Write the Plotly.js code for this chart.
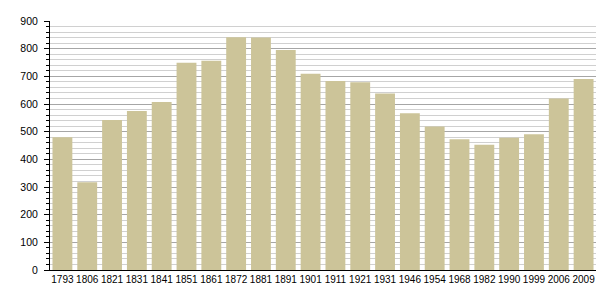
<!DOCTYPE html>
<html><head><meta charset="utf-8">
<script src="https://cdn.plot.ly/plotly-3.0.1.min.js"></script>
<style>html,body{margin:0;padding:0;background:#fff}#chart{width:605px;height:300px}</style>
</head><body><div id="chart"></div>
<script>
const years = ["1793","1806","1821","1831","1841","1851","1861","1872","1881","1891","1901","1911","1921","1931","1946","1954","1968","1982","1990","1999","2006","2009"];
const population = [480,317,542,575,607,749,756,841,840,795,709,683,679,638,567,519,473,453,478,491,620,690];
const yTickVals = [0,100,200,300,400,500,600,700,800,900];

Plotly.newPlot('chart', [{
  type: 'bar',
  x: years,
  y: population,
  marker: {color: '#ccc499', line: {width: 0}},
  hoverinfo: 'x+y'
}], {
  width: 605, height: 300,
  margin: {l: 50, r: 9, t: 21, b: 30},
  paper_bgcolor: '#fff', plot_bgcolor: '#fff',
  bargap: 0.2,
  showlegend: false,
  font: {family: 'Liberation Sans, Arial, sans-serif', size: 10, color: '#000'},
  xaxis: {
    type: 'category',
    showline: true, linecolor: '#000', linewidth: 1,
    ticks: '', showgrid: false, zeroline: false,
    tickangle: 0,
    tickfont: {size: 10}
  },
  yaxis: {
    range: [0, 900],
    tickvals: yTickVals,
    showline: true, linecolor: '#000', linewidth: 1,
    ticks: 'outside', ticklen: 5, tickcolor: '#000', tickwidth: 1,
    ticklabelstandoff: 4,
    showgrid: true, gridcolor: '#a6a6a6', gridwidth: 1,
    zeroline: false,
    tickfont: {size: 10.5},
    minor: {dtick: 20, ticks: 'outside', ticklen: 3, tickcolor: '#000', showgrid: true, gridcolor: '#d0d0d0', gridwidth: 1}
  }
}, {displayModeBar: false, staticPlot: true});
</script></body></html>
